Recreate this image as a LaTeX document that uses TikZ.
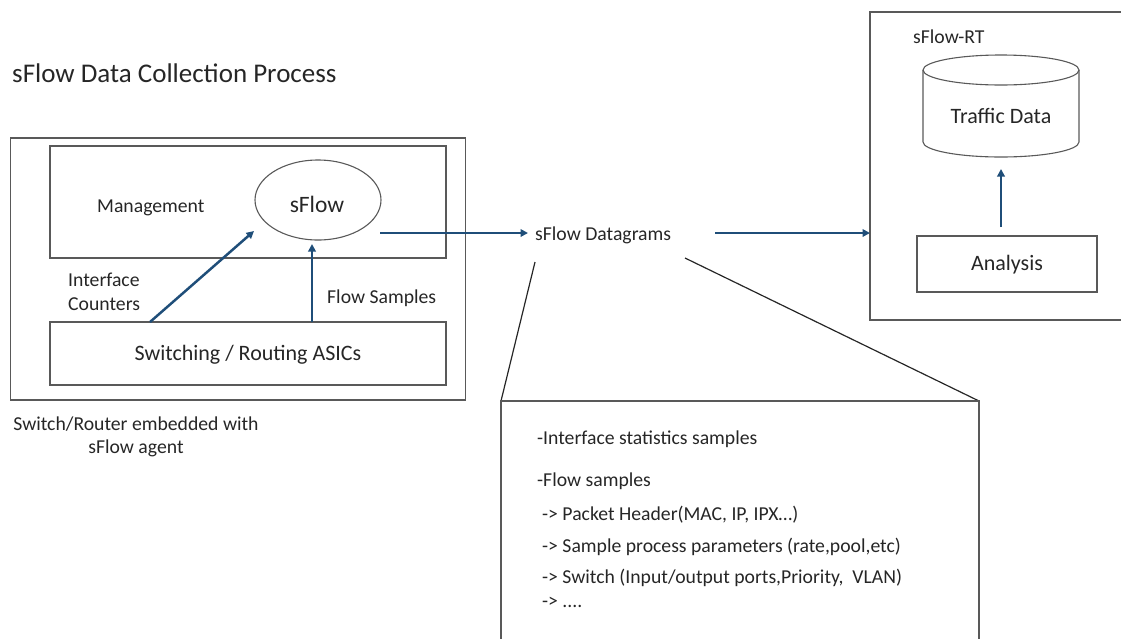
\documentclass[tikz,border=0pt]{standalone}
\usepackage{fontspec}
\setmainfont{Carlito}
\usetikzlibrary{shapes.geometric,arrows.meta}
\definecolor{arrblue}{HTML}{1F4E79}
\definecolor{boxgray}{HTML}{595959}
\definecolor{txt}{HTML}{262626}
\tikzset{
  box/.style={draw=boxgray, line width=1.1pt, fill=none},
  arr/.style={draw=arrblue, line width=2.5pt, -{Triangle[length=7.5pt,width=7.5pt]}},
  lbl/.style={text=txt, inner sep=0pt, font=\fontsize{19.7}{23.5}\selectfont},
  big/.style={text=txt, inner sep=0pt, font=\fontsize{22}{26}\selectfont},
  callline/.style={draw=black!85, line width=1.2pt},
}
\begin{document}
\begin{tikzpicture}[x=1pt,y=-1pt]
\useasboundingbox (0,0) rectangle (1121,638);
% title
\node[lbl, anchor=west, font=\fontsize{27}{32}\selectfont] (title) at (12,73) {sFlow Data Collection Process};
% left device
\node[box, minimum width=455pt, minimum height=262pt, inner sep=0pt] (device) at (238,269) {};
\node[box, minimum width=396pt, minimum height=112pt, inner sep=0pt] (mgmt) at (248,202) {};
\node[lbl, anchor=west] (mgmttxt) at (97,208) {Management};
\node[box, ellipse, minimum width=126pt, minimum height=80pt, inner sep=0pt] (sflow) at (318,200) {};
\node[text=txt, inner sep=0pt, font=\fontsize{23.5}{28}\selectfont] (sflowtxt) at (317,204) {sFlow};
\node[box, minimum width=396pt, minimum height=63pt, inner sep=0pt] (asic) at (248,353.5) {};
\node[big] (asictxt) at (248,355) {Switching / Routing ASICs};
\node[lbl, anchor=west, align=left] (ictxt) at (68,292) {Interface\\Counters};
\node[lbl, anchor=west] (fstxt) at (327,298) {Flow Samples};
\node[lbl, align=center] (devtxt) at (136,437) {Switch/Router embedded with\\sFlow agent};
% arrows inside device
\coordinate (icstart) at (150,322);
\coordinate (icend) at (254,231);
\draw[arr] (icstart) -- (icend);
\coordinate (fsstart) at (312,322);
\coordinate (fsend) at (312,244);
\draw[arr] (fsstart) -- (fsend);
% datagrams
\node[lbl, anchor=west] (dg) at (535,235) {sFlow Datagrams};
\coordinate (dgin) at (380,233);
\coordinate (dgtip) at (528,233);
\draw[arr] (dgin) -- (dgtip);
% right box
\draw[box] (1125,12) -- (870,12) -- (870,320) -- (1125,320);
\coordinate (rtleft) at (870,233);
\coordinate (dgout) at (715,233);
\draw[arr] (dgout) -- (rtleft);
\node[lbl, anchor=west] (rttxt) at (913,37) {sFlow-RT};
% cylinder
\draw[box] (1001,70) ellipse[x radius=78, y radius=15];
\draw[box] (923,70) -- (923,142) arc[start angle=180, end angle=0, x radius=78, y radius=15] -- (1079,70);
\node[big] (traffic) at (1001,116) {Traffic Data};
\node[box, minimum width=180pt, minimum height=56pt, inner sep=0pt] (analysis) at (1007,264) {};
\node[big] (antxt) at (1007,265) {Analysis};
\coordinate (anstart) at (1001,227);
\coordinate (anend) at (1001,169);
\draw[arr] (anstart) -- (anend);
% callout
\coordinate (cl) at (535,262);
\coordinate (cr) at (685,258);
\coordinate (bl) at (501,401);
\coordinate (br) at (979,401);
\draw[callline] (cl) -- (bl);
\draw[callline] (cr) -- (br);
\draw[box] (501,645) -- (bl) -- (br) -- (979,645);
\node[lbl, anchor=west] (c1) at (537,439) {-Interface statistics samples};
\node[lbl, anchor=west] (c2) at (537,481) {-Flow samples};
\node[lbl, anchor=west] (c3) at (542,515) {-> Packet Header(MAC, IP, IPX…)};
\node[lbl, anchor=west] (c4) at (542,547) {-> Sample process parameters (rate,pool,etc)};
\node[lbl, anchor=west] (c5) at (542,578) {-> Switch (Input/output ports,Priority,\ \ VLAN)};
\node[lbl, anchor=west] (c6) at (542,602) {-> ....};
\end{tikzpicture}
\end{document}
